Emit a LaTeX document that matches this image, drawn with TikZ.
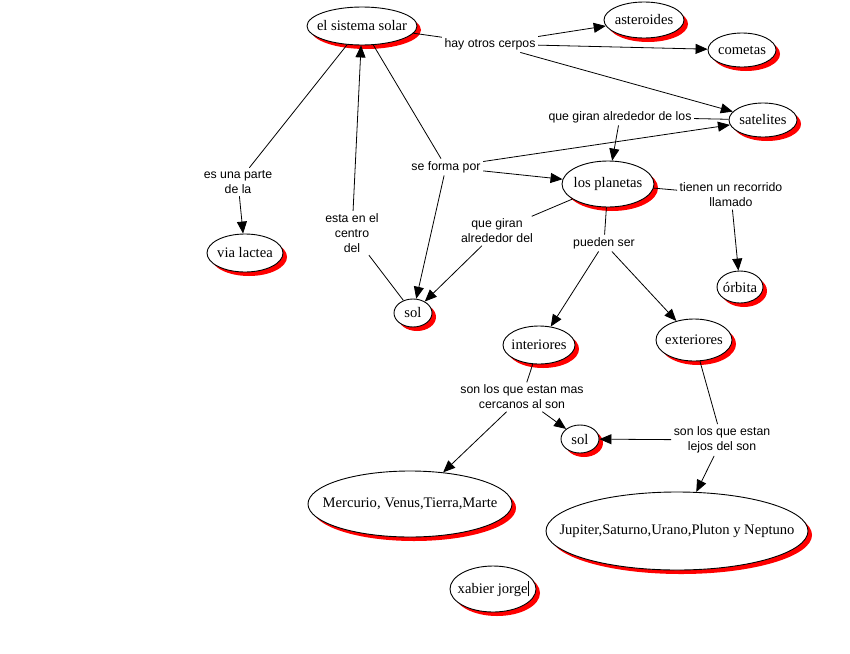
\documentclass[tikz,border=0pt]{standalone}
\usepackage{fontspec}
\setmainfont{Liberation Serif}
\newfontfamily\lblfont{Liberation Sans}
\usetikzlibrary{shapes.geometric,arrows.meta,shadows}
\newcommand{\ctext}[1]{\makebox[0pt]{#1}}
\begin{document}
\begin{tikzpicture}[x=1pt,y=-1pt,
  ell/.style={ellipse,draw=black,line width=0.9pt,fill=white,inner sep=0pt,
    font=\fontsize{14.6}{16}\selectfont,
    general shadow={fill=red,shadow xshift=4pt,shadow yshift=-4pt}},
  lbl/.style={inner sep=2.5pt,align=center,font=\lblfont\fontsize{12.3}{15}\selectfont},
  con/.style={line width=0.8pt,draw=black},
  arr/.style={con,-{Triangle[length=12pt,width=10pt]}}]
\useasboundingbox (0,0) rectangle (850,653);
% concepts
\node[ell,minimum width=110pt,minimum height=38pt] (ss) at (362,26) {\ctext{el sistema solar}};
\node[ell,minimum width=80pt,minimum height=36pt] (ast) at (644,20) {\ctext{asteroides}};
\node[ell,minimum width=68pt,minimum height=34pt] (com) at (742,50) {\ctext{cometas}};
\node[ell,minimum width=68pt,minimum height=34pt] (sat) at (763,120) {\ctext{satelites}};
\node[ell,minimum width=92pt,minimum height=46pt] (pla) at (608,184) {\ctext{los planetas}};
\node[ell,minimum width=76pt,minimum height=38pt] (via) at (245,253) {\ctext{via lactea}};
\node[ell,minimum width=38pt,minimum height=28pt] (sol1) at (413,313) {\ctext{sol}};
\node[ell,minimum width=46pt,minimum height=32pt] (orb) at (740,287) {\ctext{órbita}};
\node[ell,minimum width=72pt,minimum height=38pt] (int) at (539,345) {\ctext{interiores}};
\node[ell,minimum width=76pt,minimum height=42pt] (ext) at (694,340) {\ctext{exteriores}};
\node[ell,minimum width=38pt,minimum height=28pt] (sol2) at (580,439) {\ctext{sol}};
\node[ell,minimum width=204pt,minimum height=66pt] (mer) at (410,504) {\ctext{Mercurio, Venus,Tierra,Marte}};
\node[ell,minimum width=262pt,minimum height=78pt] (jup) at (677,531) {\ctext{Jupiter,Saturno,Urano,Pluton y Neptuno}};
\node[ell,minimum width=86pt,minimum height=46pt] (xab) at (493,589) {\ctext{xabier jorge\rule[-3pt]{0.7pt}{15pt}}};
% linking phrases
\node[lbl] (hay) at (490,44) {hay otros cerpos};
\node[lbl] (par) at (238,182) {es una parte\\de la};
\node[lbl] (cen) at (352,233) {esta en el\\centro\\del};
\node[lbl] (for) at (446,167) {se forma por};
\node[lbl] (gdl) at (620,117) {que giran alrededor de los};
\node[lbl] (gdel) at (497,231) {que giran\\alrededor del};
\node[lbl] (pue) at (604,243) {pueden ser};
\node[lbl] (rec) at (731,195) {tienen un recorrido\\llamado};
\node[lbl] (cer) at (522,397) {son los que estan mas\\cercanos al son};
\node[lbl] (lej) at (722,440) {son los que estan\\lejos del son};
% connectors
\draw[con] (ss) -- (hay);
\draw[arr] (hay) -- (ast);
\draw[arr] (hay) -- (com);
\draw[arr] (hay) -- (sat);
\draw[con] (ss) -- (par);
\draw[arr] (par) -- (via);
\draw[con] (sol1) -- (cen);
\draw[arr] (cen) -- (ss);
\draw[con] (ss) -- (for);
\draw[arr] (for) -- (sat);
\draw[arr] (for) -- (pla);
\draw[arr] (for) -- (sol1);
\draw[con] (sat) -- (gdl);
\draw[arr] (gdl) -- (pla);
\draw[con] (pla) -- (gdel);
\draw[arr] (gdel) -- (sol1);
\draw[con] (pla) -- (pue);
\draw[arr] (pue) -- (int);
\draw[arr] (pue) -- (ext);
\draw[con] (pla) -- (rec);
\draw[arr] (rec) -- (orb);
\draw[con] (int) -- (cer);
\draw[arr] (cer) -- (mer);
\draw[arr] (cer) -- (sol2);
\draw[con] (ext) -- (lej);
\draw[arr] (lej) -- (sol2);
\draw[arr] (lej) -- (jup);
\end{tikzpicture}
\end{document}
